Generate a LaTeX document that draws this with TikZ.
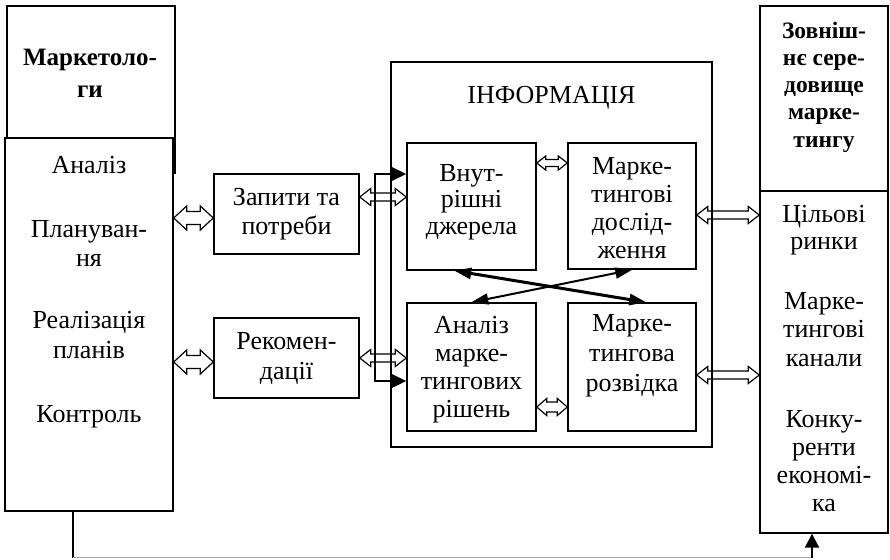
\documentclass[tikz,border=0pt]{standalone}
\usepackage{fontspec}
\setmainfont{Liberation Serif}
\usetikzlibrary{arrows.meta,calc}

% Text set line by line: #1 name prefix, #2 style, #3 x, #4 first baseline, #5 line step, #6 lines
\newcommand\textlines[6]{%
  \foreach \ln [count=\k] in {#6}
    \node[#2, anchor=base] (#1-\k) at (#3, {#4+(\k-1)*#5}) {\ln};}

% Hollow two-way block arrow between two vertical edges at height #3
% #4 head half-height, #5 shaft half-height, #6 head length
\newcommand\twowayh[6]{%
  \coordinate (tw-y) at (0,#3);
  \coordinate (tw-l) at (#1 |- tw-y);
  \coordinate (tw-r) at (#2 |- tw-y);
  \draw[twowaystyle] (tw-l) -- ($(tw-l)+(#6,-#4)$) -- ($(tw-l)+(#6,-#5)$)
    -- ($(tw-r)+(-#6,-#5)$) -- ($(tw-r)+(-#6,-#4)$) -- (tw-r)
    -- ($(tw-r)+(-#6,#4)$) -- ($(tw-r)+(-#6,#5)$)
    -- ($(tw-l)+(#6,#5)$) -- ($(tw-l)+(#6,#4)$) -- cycle;}

\begin{document}
\begin{tikzpicture}[x=1pt,y=-1pt,
  box/.style={draw, line width=1.4pt, inner sep=0pt, fill=white},
  txt/.style={font=\fontsize{26}{30}\selectfont, inner sep=0pt},
  btxt/.style={font=\fontsize{25}{29}\selectfont\bfseries, inner sep=0pt},
  bstxt/.style={font=\fontsize{23.5}{27}\selectfont\bfseries, inner sep=0pt},
  twowaystyle/.style={line width=1.2pt, line join=miter},
  bus/.style={line width=1.5pt, {Triangle[length=16pt,width=15pt]}-{Triangle[length=16pt,width=15pt]}},
  crossA/.style={line width=3pt, {Triangle[length=17pt,width=11pt]}-{Triangle[length=17pt,width=11pt]}},
  crossB/.style={line width=2pt, {Triangle[length=17pt,width=11pt]}-{Triangle[length=17pt,width=11pt]}},
  feedback/.style={gray!70, line width=1pt}]
\useasboundingbox (0,0) rectangle (890,559);

% Marketers column
\node[box, minimum width=168pt, minimum height=167pt] (mk) at (91,89.5) {};
\node[box, minimum width=168pt, minimum height=373pt] (lo) at (89,324.5) {};

% Requests and recommendations
\node[box, minimum width=145pt, minimum height=80pt] (q) at (286.5,214) {};
\node[box, minimum width=145pt, minimum height=80pt] (rc) at (286.5,358) {};

% Information block and its four sources
\node[box, minimum width=321pt, minimum height=385pt] (info) at (551.5,254.5) {};
\node[box, minimum width=129pt, minimum height=127pt] (b1) at (471.5,206.5) {};
\node[box, minimum width=128pt, minimum height=126pt] (b2) at (632,206) {};
\node[box, minimum width=129pt, minimum height=128pt] (b3) at (471.5,367) {};
\node[box, minimum width=128pt, minimum height=128pt] (b4) at (632,367) {};

% Marketing environment column
\node[box, minimum width=128pt, minimum height=185pt] (env) at (824,98.5) {};
\node[box, minimum width=128pt, minimum height=342pt] (mkt) at (824,362) {};

% Texts
\textlines{tmk}{btxt}{90}{66}{32}{Маркетоло-,ги}
\textlines{tlo1}{txt}{89}{173}{0}{Аналіз}
\textlines{tlo2}{txt}{89}{237}{29.5}{Плануван-,ня}
\textlines{tlo3}{txt}{89}{328}{30}{Реалізація,планів}
\textlines{tlo4}{txt}{89}{422}{0}{Контроль}
\textlines{tq}{txt}{286.5}{205}{29.5}{Запити та,потреби}
\textlines{trc}{txt}{286.5}{349}{30}{Рекомен-,дації}
\textlines{tinfo}{txt}{551.5}{103}{0}{ІНФОРМАЦІЯ}
\textlines{tb1}{txt}{471.5}{181}{26.5}{Внут-,рішні,джерела}
\textlines{tb2}{txt}{632}{174}{28}{Марке-,тингові,дослід-,ження}
\textlines{tb3}{txt}{471.5}{333}{28}{Аналіз,марке-,тингових,рішень}
\textlines{tb4}{txt}{632}{331}{30}{Марке-,тингова,розвідка}
\textlines{tenv}{bstxt}{824}{39}{27}{Зовніш-,нє сере-,довище,марке-,тингу}
\textlines{tm1}{txt}{824}{222}{27.5}{Цільові,ринки}
\textlines{tm2}{txt}{824}{309}{28.5}{Марке-,тингові,канали}
\textlines{tm3}{txt}{824}{427}{28.3}{Конку-,ренти,економі-,ка}

% Two-way exchanges
\twowayh{lo.east}{q.west}{218}{12}{6.5}{13}
\twowayh{lo.east}{rc.west}{362}{12}{6.5}{13}
\twowayh{q.east}{b1.west}{197}{8.5}{4}{11}
\twowayh{rc.east}{b3.west}{358}{8.5}{4}{11}
\twowayh{b1.east}{b2.west}{163}{7}{3.5}{9}
\twowayh{b3.east}{b4.west}{407}{8.5}{5}{10}
\twowayh{b2.east}{mkt.west}{215}{8.5}{4}{11}
\twowayh{b4.east}{mkt.west}{375}{8.5}{4}{11}

% Bus feeding the internal sources and the decision analysis
\coordinate (bustop) at (375,174);
\coordinate (busbot) at (375,381);
\draw[bus] (b1.west |- bustop) -- (bustop) -- (busbot) -- (b3.west |- busbot);

% Crossed links between the sources
\draw[crossA] ($(b1.south west)+(48,0)$) -- ($(b4.north west)+(79,0)$);
\draw[crossB] ($(b3.north west)+(65,0)$) -- ($(b2.south west)+(65,0)$);

% Feedback from marketers to the environment
\coordinate (fb1) at (73,557.5);
\coordinate (fb2) at (812,557.5);
\draw[line width=1.3pt] (lo.south -| fb1) -- (fb1);
\draw[feedback] (fb1) -- (fb2);
\draw[line width=2pt, -{Triangle[length=14pt,width=14pt]}] (fb2) -- (mkt.south -| fb2);
\end{tikzpicture}
\end{document}
